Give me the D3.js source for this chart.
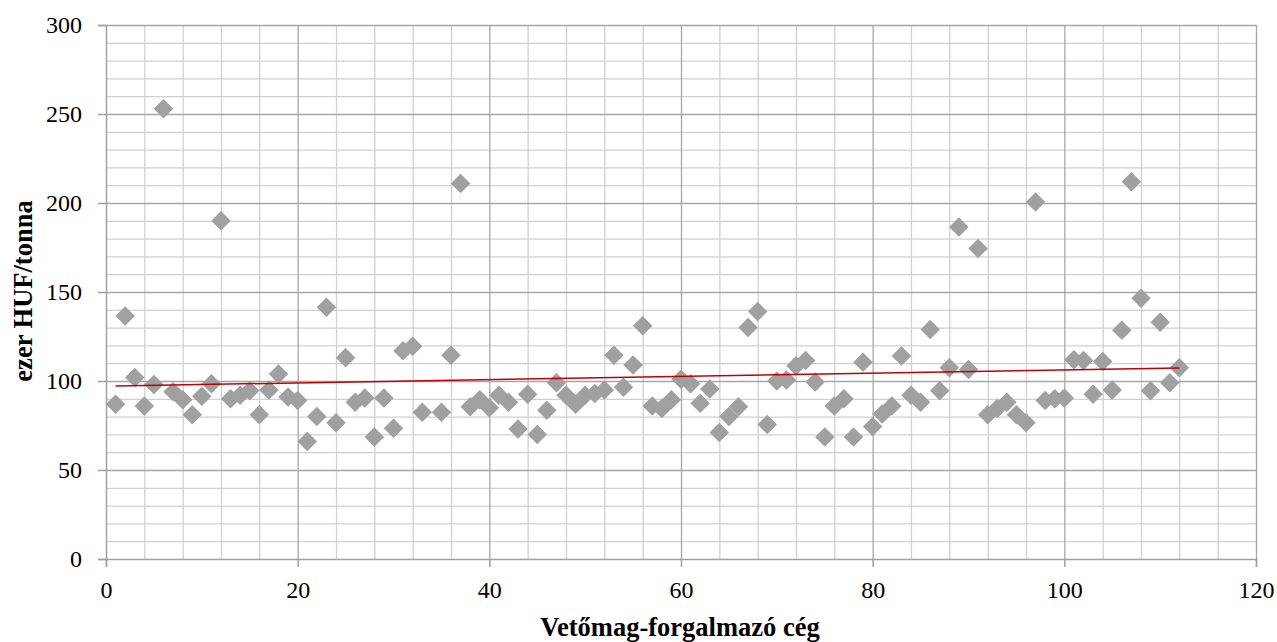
<!DOCTYPE html>
<html>
<head>
<meta charset="utf-8">
<script src="https://cdn.jsdelivr.net/npm/d3@7"></script>
<style>
  body { margin: 0; background: #fff; }
  svg { display: block; }
  text { font-family: "Liberation Serif", "Times New Roman", serif; fill: #000; }
</style>
</head>
<body>
<script>
// --- Data ---
const companies = [1,2,3,4,5,6,7,8,9,10,11,12,13,14,15,16,17,18,19,20,
  21,22,23,24,25,26,27,28,29,30,31,32,33,35,36,37,38,39,40,
  41,42,43,44,45,46,47,48,49,50,51,52,53,54,55,56,57,58,59,60,
  61,62,63,64,65,66,67,68,69,70,71,72,73,74,75,76,77,78,79,80,
  81,82,83,84,85,86,87,88,89,90,91,92,93,94,95,96,97,98,99,100,
  101,102,103,104,105,106,107,108,109,110,111,112];
const prices = [87,136.5,102,86,98,253,94,89.5,81,91.5,98.5,190,90,92,94.5,81,95,104,91,89,
  66,80,141.5,76.5,113,88,90.5,68.5,90.5,73.5,117,119.5,82.5,82.5,114.5,211,85.5,89.5,85,
  92,88,73,92.5,70,83.5,99,92,87,92,93,95,114.5,96.5,109,131,86,84.5,89.5,101,
  98.5,87.5,95.5,71,80,85.5,130,139,75.5,100,100.5,108.5,111.5,99.5,68.5,86,90,68.5,110.5,74.5,
  81.5,86,114,92,88,129,94.5,107.5,186.5,106.5,174.5,81,84.5,88,81,76.5,200.5,89,90,90.5,
  112,111.5,92.5,111,95,128.5,212,146.5,94.5,133,99,107.5];
const xTicks = [0,20,40,60,80,100,120];
const yTicks = [0,50,100,150,200,250,300];
const xTitle = "Vetőmag-forgalmazó cég";
const yTitle = "ezer HUF/tonna";

const W = 1277, H = 642;
const m = {left: 106, top: 25, right: 21, bottom: 83};
const iw = W - m.left - m.right, ih = H - m.top - m.bottom;

const svg = d3.select("body").append("svg").attr("width", W).attr("height", H);
const g = svg.append("g").attr("transform", `translate(${m.left},${m.top})`);

const x = d3.scaleLinear().domain([0,120]).range([0, iw]);
const y = d3.scaleLinear().domain([0,300]).range([ih, 0]);

// minor grid
const xMinor = d3.range(0, 121, 4).filter(v => v % 20 !== 0);
const yMinor = d3.range(0, 301, 10).filter(v => v % 50 !== 0);
g.append("g").selectAll("line").data(xMinor).join("line")
  .attr("x1", d => x(d)+0.5).attr("x2", d => x(d)+0.5).attr("y1", 0).attr("y2", ih)
  .attr("stroke", "#d0d0d0").attr("stroke-width", 1.3);
g.append("g").selectAll("line").data(yMinor).join("line")
  .attr("y1", d => y(d)+0.5).attr("y2", d => y(d)+0.5).attr("x1", 0).attr("x2", iw)
  .attr("stroke", "#d0d0d0").attr("stroke-width", 1.3);
// major grid
g.append("g").selectAll("line").data(xTicks.slice(1)).join("line")
  .attr("x1", d => x(d)+0.5).attr("x2", d => x(d)+0.5).attr("y1", 0).attr("y2", ih)
  .attr("stroke", "#a6a6a6").attr("stroke-width", 1.3);
g.append("g").selectAll("line").data(yTicks.slice(1)).join("line")
  .attr("y1", d => y(d)+0.5).attr("y2", d => y(d)+0.5).attr("x1", 0).attr("x2", iw)
  .attr("stroke", "#a6a6a6").attr("stroke-width", 1.3);

// axes
const xAxis = g.append("g").attr("transform", `translate(0,${ih})`)
  .attr("font-family", '"Liberation Serif", serif').attr("font-size", 24)
  .call(d3.axisBottom(x).tickValues(xTicks).tickSize(8).tickPadding(14));
const yAxis = g.append("g")
  .attr("font-family", '"Liberation Serif", serif').attr("font-size", 24)
  .call(d3.axisLeft(y).tickValues(yTicks).tickSize(8).tickPadding(16));
[xAxis, yAxis].forEach(a => {
  a.attr("font-family", '"Liberation Serif", serif').attr("font-size", 24);
  a.select(".domain").attr("stroke", "#a0a0a0").attr("stroke-width", 1.5);
  a.selectAll(".tick line").attr("stroke", "#a0a0a0").attr("stroke-width", 1.5);
  a.selectAll(".tick text").style("font-family", '"Liberation Serif", serif').style("font-size", "24px").attr("fill", "#000");
});
yAxis.selectAll(".tick text").attr("dy", "0.33em");

// points
const pts = companies.map((c, i) => ({x: c, y: prices[i]}));
const diamond = d3.symbol().type(d3.symbolSquare).size(190);
g.append("g").selectAll("path").data(pts).join("path")
  .attr("d", diamond)
  .attr("transform", d => `translate(${x(d.x)},${y(d.y)}) rotate(45)`)
  .attr("fill", "#a0a0a0");

// linear trend (least squares)
const mx = d3.mean(pts, d => d.x), my = d3.mean(pts, d => d.y);
const slope = d3.sum(pts, d => (d.x-mx)*(d.y-my)) / d3.sum(pts, d => (d.x-mx)*(d.x-mx));
const icpt = my - slope*mx;
const x0 = d3.min(companies), x1 = d3.max(companies);
g.append("line")
  .attr("x1", x(x0)).attr("y1", y(icpt + slope*x0))
  .attr("x2", x(x1)).attr("y2", y(icpt + slope*x1))
  .attr("stroke", "#c00000").attr("stroke-width", 1.5);

// titles
svg.append("text").attr("x", m.left + iw/2 - 1).attr("y", 636)
  .attr("text-anchor", "middle").style("font-weight", "bold").style("font-size", "26.5px")
  .text(xTitle);
svg.append("text").attr("transform", `translate(32,${291}) rotate(-90)`)
  .attr("text-anchor", "middle").style("font-weight", "bold").style("font-size", "26.5px")
  .text(yTitle);
</script>
</body>
</html>
